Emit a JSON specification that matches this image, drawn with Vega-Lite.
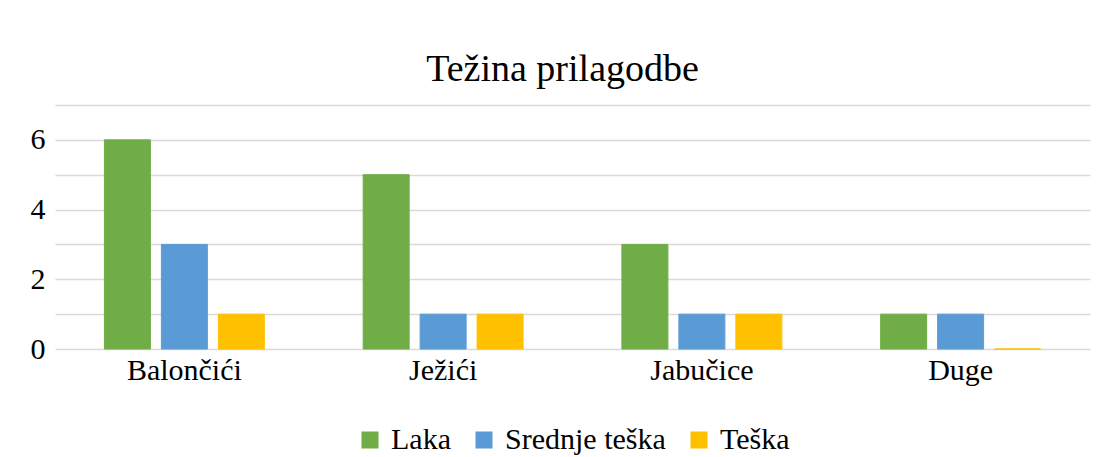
{
  "$schema": "https://vega.github.io/schema/vega-lite/v6.json",
  "width": 1035,
  "height": 244,
  "autosize": {"type": "none"},
  "padding": {"left": 55, "top": 105, "right": 8, "bottom": 108},
  "background": "white",
  "title": {
    "text": "Težina prilagodbe",
    "fontSize": 38,
    "fontWeight": "normal",
    "color": "#000000",
    "anchor": "middle",
    "dx": -10,
    "offset": 16
  },
  "data": {
    "values": [
      {"grupa": "Balončići", "serija": "Laka", "vrijednost": 6},
      {"grupa": "Balončići", "serija": "Srednje teška", "vrijednost": 3},
      {"grupa": "Balončići", "serija": "Teška", "vrijednost": 1},
      {"grupa": "Ježići", "serija": "Laka", "vrijednost": 5},
      {"grupa": "Ježići", "serija": "Srednje teška", "vrijednost": 1},
      {"grupa": "Ježići", "serija": "Teška", "vrijednost": 1},
      {"grupa": "Jabučice", "serija": "Laka", "vrijednost": 3},
      {"grupa": "Jabučice", "serija": "Srednje teška", "vrijednost": 1},
      {"grupa": "Jabučice", "serija": "Teška", "vrijednost": 1},
      {"grupa": "Duge", "serija": "Laka", "vrijednost": 1},
      {"grupa": "Duge", "serija": "Srednje teška", "vrijednost": 1},
      {"grupa": "Duge", "serija": "Teška", "vrijednost": 0}
    ]
  },
  "mark": {"type": "bar", "strokeWidth": 1},
  "encoding": {
    "x": {
      "field": "grupa",
      "type": "nominal",
      "sort": ["Balončići", "Ježići", "Jabučice", "Duge"],
      "scale": {"paddingInner": 0.382, "paddingOuter": 0.191},
      "axis": {
        "title": null,
        "labelAngle": 0,
        "labelFontSize": 30,
        "labelColor": "#000000",
        "labelPadding": 6,
        "ticks": false,
        "domain": false,
        "grid": false
      }
    },
    "xOffset": {
      "field": "serija",
      "type": "nominal",
      "sort": ["Laka", "Srednje teška", "Teška"],
      "scale": {"paddingInner": 0.193, "paddingOuter": 0}
    },
    "y": {
      "field": "vrijednost",
      "type": "quantitative",
      "scale": {"domain": [0, 7], "nice": false},
      "axis": {
        "title": null,
        "values": [0, 1, 2, 3, 4, 5, 6, 7],
        "labelExpr": "datum.value % 2 == 0 && datum.value < 7 ? datum.label : ''",
        "labelFontSize": 30,
        "labelColor": "#000000",
        "labelPadding": 10,
        "ticks": false,
        "domain": false,
        "gridColor": "#d9d9d9",
        "gridWidth": 1.5
      }
    },
    "color": {
      "field": "serija",
      "type": "nominal",
      "sort": ["Laka", "Srednje teška", "Teška"],
      "scale": {
        "domain": ["Laka", "Srednje teška", "Teška"],
        "range": ["#70ad47", "#5b9bd5", "#ffc000"]
      },
      "legend": {
        "title": null,
        "orient": "bottom",
        "direction": "horizontal",
        "symbolType": "square",
        "symbolSize": 289,
        "symbolStrokeWidth": 0,
        "labelFontSize": 30,
        "labelColor": "#000000",
        "labelLimit": 400,
        "labelOffset": 6,
        "columnPadding": 18,
        "offset": 40
      }
    },
    "stroke": {
      "field": "serija",
      "type": "nominal",
      "scale": {
        "domain": ["Laka", "Srednje teška", "Teška"],
        "range": ["#70ad47", "#5b9bd5", "#ffc000"]
      },
      "legend": null
    }
  },
  "config": {
    "font": "Liberation Serif",
    "view": {"stroke": null},
    "axis": {"labelFont": "Liberation Serif"},
    "legend": {"labelFont": "Liberation Serif", "layout": {"bottom": {"anchor": "middle"}}},
    "title": {"font": "Liberation Serif"}
  }
}
